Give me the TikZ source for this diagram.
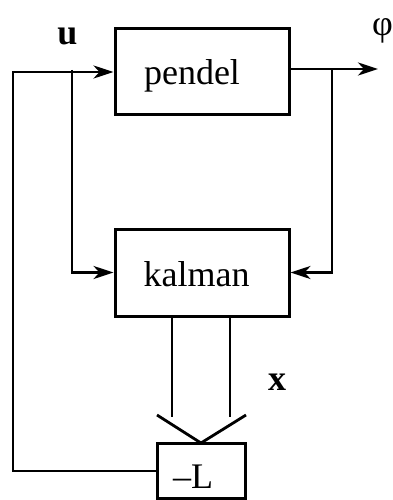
\documentclass[tikz,border=0pt]{standalone}
\usepackage{fontspec}
\setmainfont{Liberation Serif}
\usetikzlibrary{arrows.meta}
\begin{document}
\begin{tikzpicture}[x=1pt,y=-1pt,
  blk/.style={draw,line width=3pt,inner sep=0pt},
  txt/.style={anchor=base,inner sep=0pt,font=\fontsize{36}{40}\selectfont},
  wire/.style={line width=2.8pt},
  arr/.style={wire,-{Stealth[length=20pt,width=13pt,inset=6pt]}},
  lbl/.style={anchor=base,inner sep=0pt,font=\fontsize{36}{40}\selectfont\bfseries}]
\useasboundingbox (0,0) rectangle (393,500);
\node[blk,minimum width=174pt,minimum height=86pt] (pendel) at (202,72) {};
\node[blk,minimum width=174pt,minimum height=87pt] (kalman) at (202,272.5) {};
\node[blk,minimum width=88pt,minimum height=55pt] (L) at (201,470.5) {};
\node[txt] (tp) at (192,85) {pendel};
\node[txt] (tk) at (196.5,286) {kalman};
\node[txt] (tl) at (193,488) {–L};
\coordinate (out) at (378,69);
\coordinate (br) at (332,69);
\coordinate (bl) at (72,70);
\coordinate (fl) at (13,471);
\coordinate (v1) at (157,415);
\coordinate (v2) at (246,415);
\coordinate (apex) at (201,443);
\draw[arr] (pendel.east |- out) -- (out);
\draw[arr] (br) -- (br |- kalman.east) -- (kalman.east);
\draw[arr] (L.west |- fl) -- (fl) -- (fl |- pendel.west) -- (pendel.west);
\draw[arr] (bl) -- (bl |- kalman.west) -- (kalman.west);
\draw[wire] (kalman.south -| 172,0) -- (172,417);
\draw[wire] (kalman.south -| 230,0) -- (230,417);
\draw[wire] (v1) -- (apex) -- (v2);
\node[lbl] (u) at (67.5,45) {u};
\node[txt] (phi) at (382.5,36) {φ};
\node[lbl] (x) at (277,390) {x};
\end{tikzpicture}
\end{document}
